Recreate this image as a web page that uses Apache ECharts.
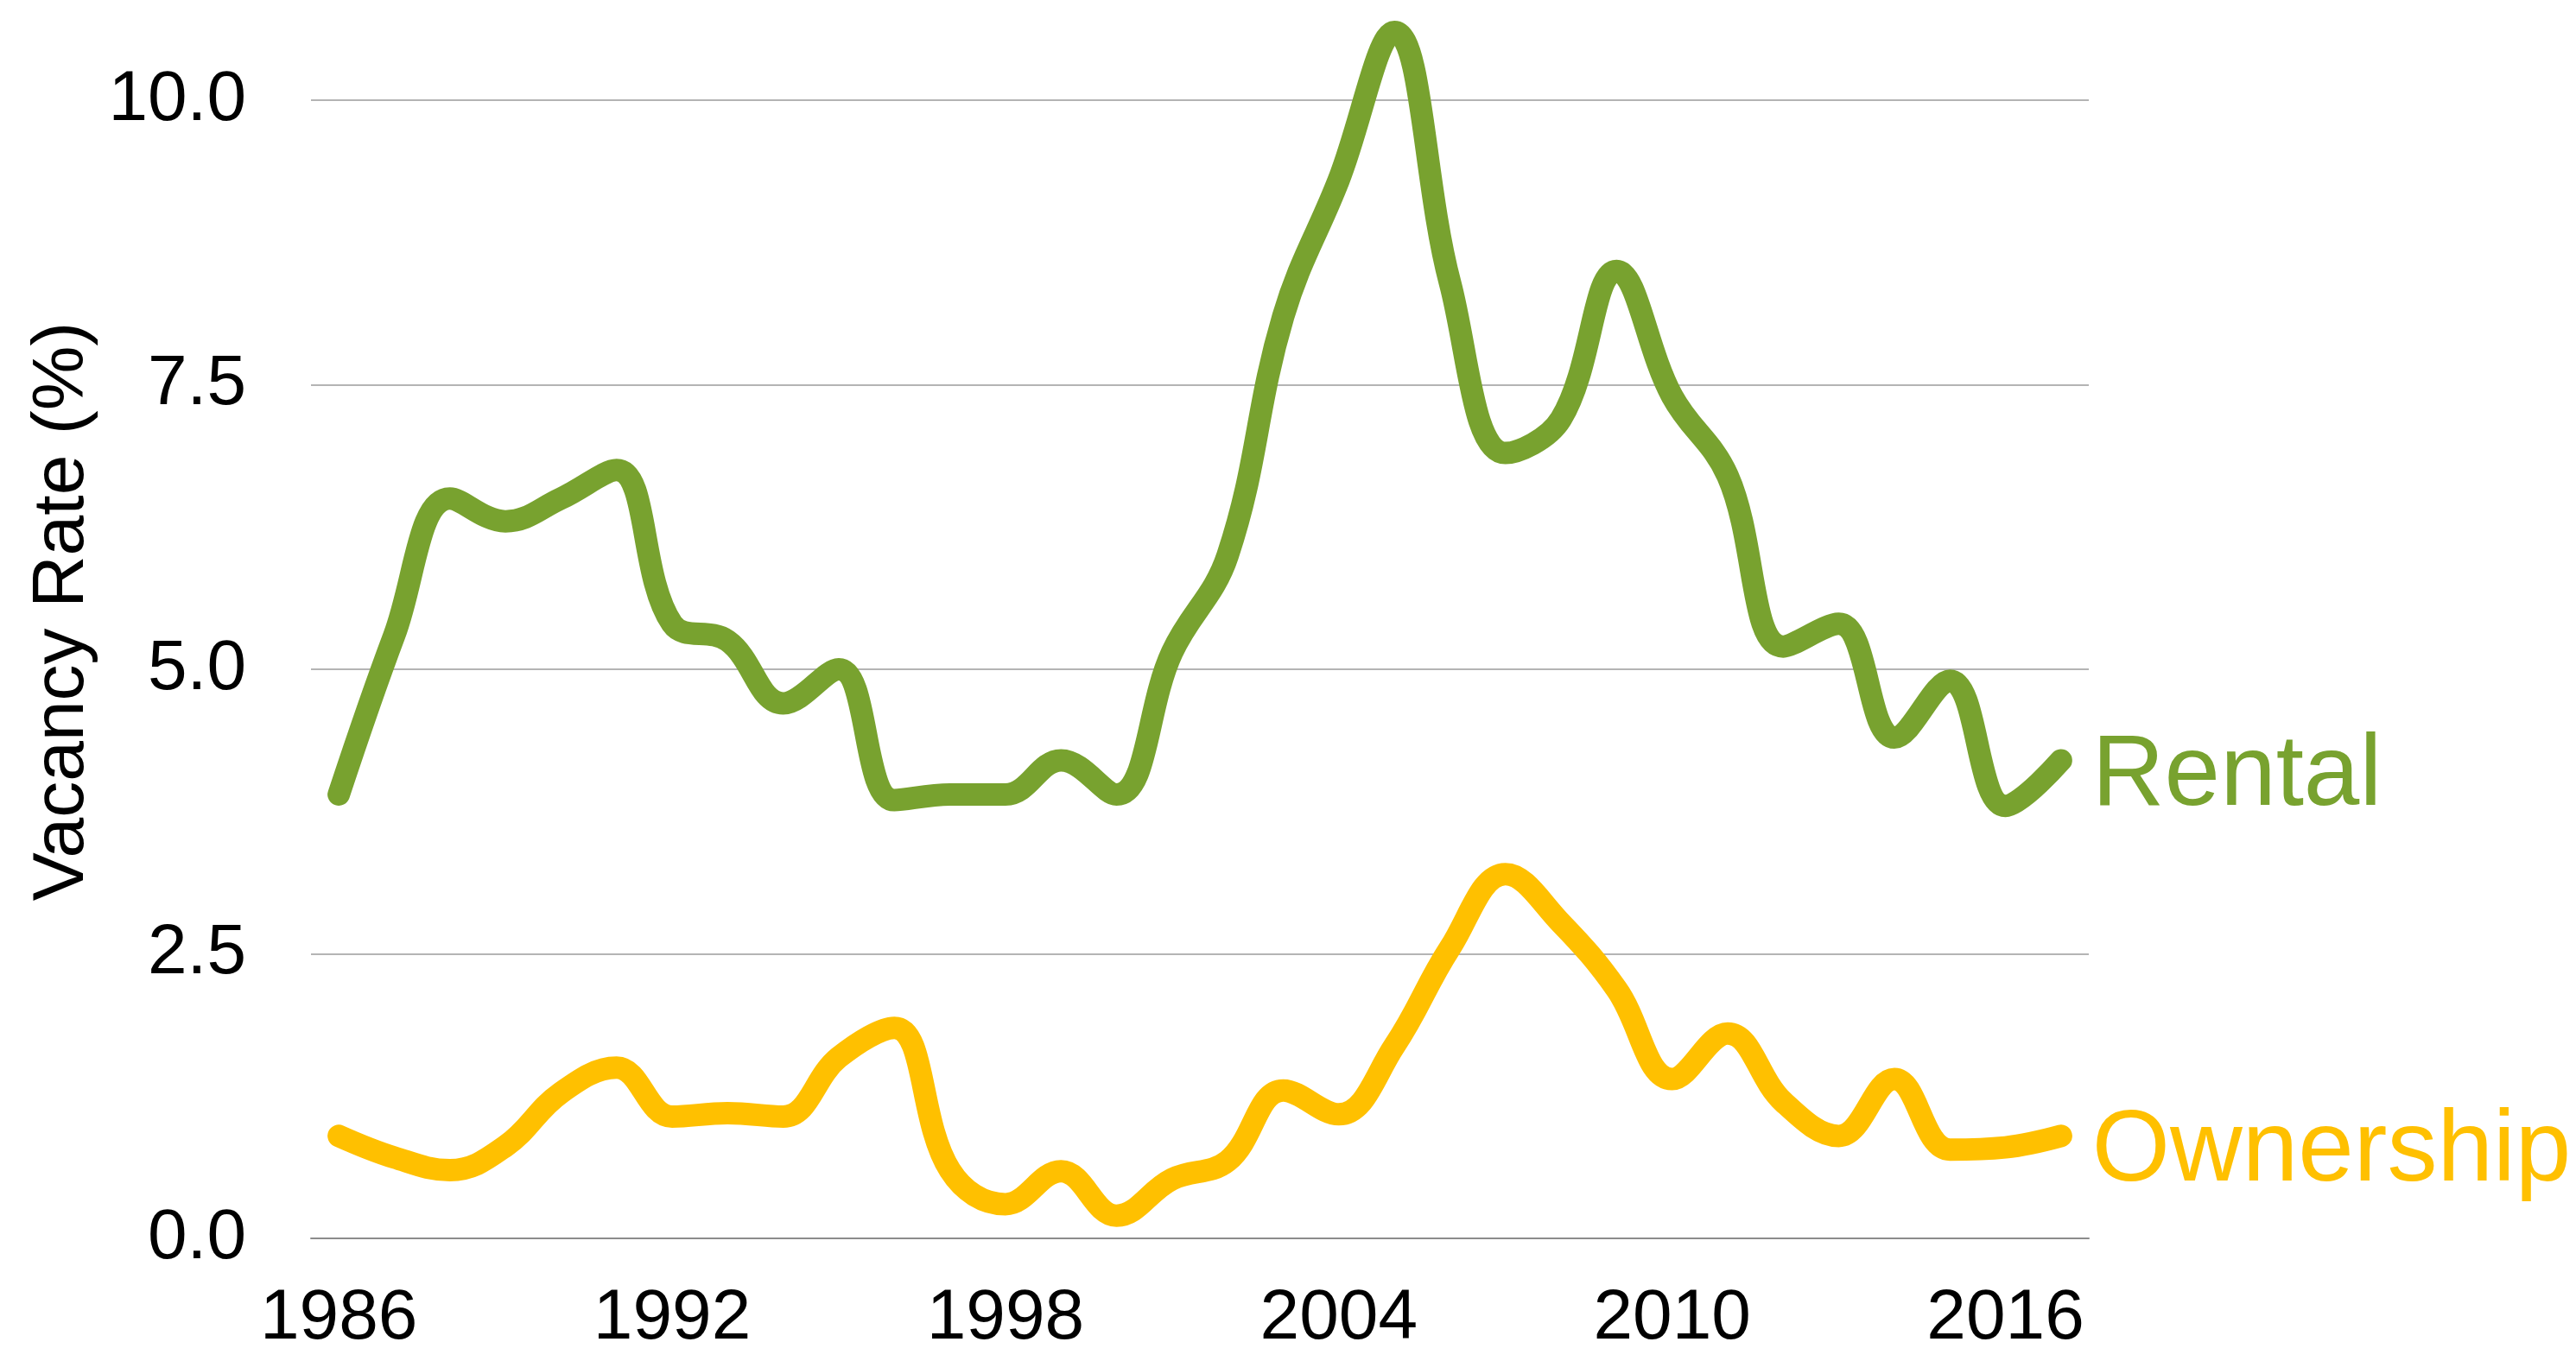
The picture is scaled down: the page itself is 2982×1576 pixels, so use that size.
<!DOCTYPE html>
<html>
<head>
    <meta charset="UTF-8"/>
    <script type="text/javascript" src="https://cdn.jsdelivr.net/npm/echarts@6/dist/echarts.min.js"></script>
    <title>Vacancy Rate</title>
    <style>
        html, body { margin: 0; padding: 0; background: #fff; }
        #main { width: 2982px; height: 1576px; }
    </style>
</head>
<body>
<div id="main"></div>
<script type="text/javascript">
    // years on the x axis, one point per year
    var years = [];
    for (var y = 1986; y <= 2017; y++) years.push(String(y));

    var rental = [3.9, 5.3, 6.5, 6.3, 6.5, 6.75, 5.4, 5.25, 4.7, 5.0,
        3.85, 3.9, 3.9, 4.2, 3.9, 5.15, 6.0, 8.1, 9.3, 10.6,
        8.4, 6.9, 7.2, 8.5, 7.4, 6.7, 5.2, 5.4, 4.4, 4.9,
        3.8, 4.2];
    var ownership = [0.9, 0.71, 0.6, 0.81, 1.28, 1.5, 1.07, 1.1, 1.07, 1.59,
        1.85, 0.6, 0.3, 0.59, 0.2, 0.52, 0.68, 1.3, 1.09, 1.69,
        2.55, 3.2, 2.77, 2.19, 1.4, 1.8, 1.2, 0.9, 1.4, 0.78,
        0.8, 0.9];

    var yTicks = [0, 2.5, 5, 7.5, 10];

    var font = "'Liberation Sans', Arial, sans-serif";
    var green = '#78A22F';
    var gold = '#FFC000';

    function lineSeries(name, data, color) {
        return {
            name: name,
            type: 'line',
            data: data,
            smooth: 0.4,
            showSymbol: false,
            clip: false,
            lineStyle: {color: color, width: 26, cap: 'round', join: 'round'},
            itemStyle: {color: color},
            endLabel: {
                show: true,
                formatter: '{a}',
                color: color,
                fontSize: 116,
                fontFamily: font,
                distance: 36,
                offset: [0, 20]
            }
        };
    }

    var myChart = echarts.init(document.getElementById('main'));
    var option = {
        animation: false,
        backgroundColor: '#fff',
        grid: {left: 360, right: 564, top: 116, bottom: 142},
        xAxis: {
            type: 'category',
            data: years,
            boundaryGap: true,
            axisLine: {show: true, lineStyle: {color: '#8c8c8c', width: 2}},
            axisTick: {show: false},
            axisLabel: {
                interval: 5,
                color: '#000',
                fontSize: 82,
                fontFamily: font,
                margin: 52
            },
            splitLine: {show: false}
        },
        yAxis: {
            type: 'value',
            min: yTicks[0],
            max: yTicks[yTicks.length - 1],
            interval: 2.5,
            name: 'Vacancy Rate (%)',
            nameLocation: 'middle',
            nameGap: 245,
            nameTextStyle: {color: '#000', fontSize: 84, fontFamily: font, padding: [0, 0, 0, 134]},
            axisLine: {show: false},
            axisTick: {show: false},
            axisLabel: {
                color: '#000',
                fontSize: 82,
                fontFamily: font,
                margin: 75,
                formatter: function (v) { return v.toFixed(1); }
            },
            splitLine: {lineStyle: {color: '#b4b4b4', width: 2}}
        },
        series: [
            lineSeries('Rental', rental, green),
            lineSeries('Ownership', ownership, gold)
        ]
    };
    myChart.setOption(option);
</script>
</body>
</html>
